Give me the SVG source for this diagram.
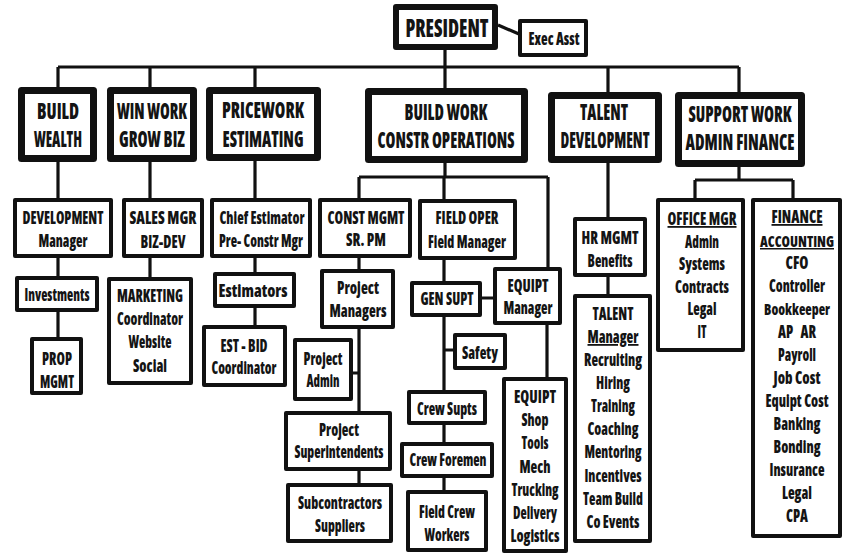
<svg xmlns="http://www.w3.org/2000/svg" width="848" height="555" viewBox="0 0 848 555">
<style>
text{font-family:"Open Sans","Liberation Sans",Arial,sans-serif;font-stretch:condensed;font-weight:800;fill:#141414;text-anchor:middle}
.t0{font-size:24px}
.t1{font-size:22px}
.t2{font-size:18px}
.t3{font-size:17px}
.t4{font-size:16.5px}
.t5{font-size:15px}
.u{text-decoration:underline}
.b1{fill:#fff;stroke:#111;stroke-width:7;stroke-linejoin:round}
.b0{fill:#fff;stroke:#111;stroke-width:6;stroke-linejoin:round}
.b2{fill:#fff;stroke:#111;stroke-width:4;stroke-linejoin:round}
.c{fill:none;stroke:#111;stroke-width:3.2;stroke-linejoin:miter}
</style>
<rect width="848" height="555" fill="#fff"/>
<g id="connectors">
<path class="c" d="M445 50V67M58 67H739M58 67V90M150 67V90M255 67V90M445 67V91M608 67V95M739 67V95"/>
<path class="c" d="M498 25L519 34"/>
<path class="c" d="M58 158V199M58 256V277M58 311V338"/>
<path class="c" d="M150 158V199M150 256V278"/>
<path class="c" d="M255 157V199M255 256V273M255 307V326"/>
<path class="c" d="M445 159V177M359 177H548M359 177V199M444 177V200M548 177V268"/>
<path class="c" d="M359 256V270M359 327V412M353 373H359M359 469V484"/>
<path class="c" d="M444 258V282M444 315V391M444 350H454M482 298H494M444 423V443M444 476V491M547 323V378"/>
<path class="c" d="M608 159V218M608 275V295"/>
<path class="c" d="M739 163V180M695 180H793M695 180V199M793 180V199"/>
</g>
<g id="president"><rect class="b0" x="396" y="7" width="99" height="40"/><text class="t0" x="447" y="37" textLength="83" lengthAdjust="spacingAndGlyphs">PRESIDENT</text></g>
<g id="exec-asst"><rect class="b2" x="520" y="21" width="66" height="34"/><text class="t3" x="554" y="45" textLength="51" lengthAdjust="spacingAndGlyphs">Exec Asst</text></g>

<g id="build-wealth"><rect class="b1" x="21.5" y="90.5" width="72" height="68"/><text class="t1" x="58" y="119" textLength="42" lengthAdjust="spacingAndGlyphs">BUILD</text><text class="t1" x="58" y="147" textLength="48" lengthAdjust="spacingAndGlyphs">WEALTH</text></g>
<g id="win-work"><rect class="b1" x="110.5" y="90.5" width="83" height="68"/><text class="t1" x="152" y="119" textLength="70" lengthAdjust="spacingAndGlyphs">WIN WORK</text><text class="t1" x="152" y="147" textLength="66" lengthAdjust="spacingAndGlyphs">GROW BIZ</text></g>
<g id="pricework"><rect class="b1" x="209.5" y="90.5" width="108" height="67"/><text class="t1" x="263" y="118" textLength="82" lengthAdjust="spacingAndGlyphs">PRICEWORK</text><text class="t1" x="263" y="147" textLength="81" lengthAdjust="spacingAndGlyphs">ESTIMATING</text></g>
<g id="build-work"><rect class="b1" x="368.5" y="91.5" width="156" height="68"/><text class="t1" x="446" y="120" textLength="83" lengthAdjust="spacingAndGlyphs">BUILD WORK</text><text class="t1" x="446" y="148" textLength="137" lengthAdjust="spacingAndGlyphs">CONSTR OPERATIONS</text></g>
<g id="talent-dev"><rect class="b1" x="551.5" y="95.5" width="107" height="64"/><text class="t1" x="604" y="120" textLength="48" lengthAdjust="spacingAndGlyphs">TALENT</text><text class="t1" x="605" y="148" textLength="89" lengthAdjust="spacingAndGlyphs">DEVELOPMENT</text></g>
<g id="support-work"><rect class="b1" x="678.5" y="95.5" width="123" height="68"/><text class="t1" x="740" y="122" textLength="103" lengthAdjust="spacingAndGlyphs">SUPPORT WORK</text><text class="t1" x="740" y="150" textLength="109" lengthAdjust="spacingAndGlyphs">ADMIN  FINANCE</text></g>

<g id="development"><rect class="b2" x="15" y="200" width="96" height="56"/><text class="t2" x="63" y="224" textLength="81" lengthAdjust="spacingAndGlyphs">DEVELOPMENT</text><text class="t2" x="63" y="247" textLength="49" lengthAdjust="spacingAndGlyphs">Manager</text></g>
<g id="investments"><rect class="b2" x="17" y="278" width="80" height="32"/><text class="t2" x="57" y="301" textLength="65" lengthAdjust="spacingAndGlyphs">Investments</text></g>
<g id="prop-mgmt"><rect class="b2" x="32" y="339" width="49" height="54"/><text class="t2" x="57" y="365" textLength="30" lengthAdjust="spacingAndGlyphs">PROP</text><text class="t2" x="57" y="388" textLength="34" lengthAdjust="spacingAndGlyphs">MGMT</text></g>

<g id="sales-mgr"><rect class="b2" x="124" y="200" width="78" height="56"/><text class="t2" x="163" y="224" textLength="67" lengthAdjust="spacingAndGlyphs">SALES MGR</text><text class="t2" x="163" y="248" textLength="45" lengthAdjust="spacingAndGlyphs">BIZ-DEV</text></g>
<g id="marketing"><rect class="b2" x="109" y="279" width="82" height="104"/><text class="t2" x="150" y="302" textLength="66" lengthAdjust="spacingAndGlyphs">MARKETING</text><text class="t2" x="150" y="325" textLength="66" lengthAdjust="spacingAndGlyphs">Coordinator</text><text class="t2" x="150" y="348" textLength="43" lengthAdjust="spacingAndGlyphs">Website</text><text class="t2" x="150" y="372" textLength="34" lengthAdjust="spacingAndGlyphs">Social</text></g>

<g id="chief-estimator"><rect class="b2" x="212" y="200" width="98" height="56"/><text class="t2" x="262" y="224" textLength="85" lengthAdjust="spacingAndGlyphs">Chief Estimator</text><text class="t2" x="261" y="247" textLength="84" lengthAdjust="spacingAndGlyphs">Pre- Constr Mgr</text></g>
<g id="estimators"><rect class="b2" x="215" y="274" width="79" height="32"/><text class="t2" x="253" y="297" textLength="69" lengthAdjust="spacingAndGlyphs">Estimators</text></g>
<g id="est-bid"><rect class="b2" x="204" y="327" width="81" height="58"/><text class="t2" x="244" y="352" textLength="47" lengthAdjust="spacingAndGlyphs">EST - BID</text><text class="t2" x="244" y="374" textLength="65" lengthAdjust="spacingAndGlyphs">Coordinator</text></g>

<g id="const-mgmt"><rect class="b2" x="320" y="200" width="90" height="56"/><text class="t2" x="366" y="224" textLength="77" lengthAdjust="spacingAndGlyphs">CONST MGMT</text><text class="t2" x="366" y="246" textLength="40" lengthAdjust="spacingAndGlyphs">SR. PM</text></g>
<g id="field-oper"><rect class="b2" x="420" y="201" width="95" height="57"/><text class="t2" x="467" y="224" textLength="63" lengthAdjust="spacingAndGlyphs">FIELD OPER</text><text class="t2" x="467" y="248" textLength="78" lengthAdjust="spacingAndGlyphs">Field Manager</text></g>
<g id="project-managers"><rect class="b2" x="322" y="271" width="71" height="56"/><text class="t2" x="358" y="294" textLength="42" lengthAdjust="spacingAndGlyphs">Project</text><text class="t2" x="358" y="317" textLength="57" lengthAdjust="spacingAndGlyphs">Managers</text></g>
<g id="gen-supt"><rect class="b2" x="412" y="283" width="68" height="32"/><text class="t2" x="447" y="305" textLength="53" lengthAdjust="spacingAndGlyphs">GEN SUPT</text></g>
<g id="equipt-manager"><rect class="b2" x="495" y="269" width="65" height="54"/><text class="t2" x="528" y="292" textLength="41" lengthAdjust="spacingAndGlyphs">EQUIPT</text><text class="t2" x="528" y="314" textLength="49" lengthAdjust="spacingAndGlyphs">Manager</text></g>
<g id="safety"><rect class="b2" x="455" y="335" width="50" height="33"/><text class="t2" x="480" y="359" textLength="36" lengthAdjust="spacingAndGlyphs">Safety</text></g>
<g id="project-admin"><rect class="b2" x="295" y="340" width="56" height="59"/><text class="t2" x="323" y="365" textLength="39" lengthAdjust="spacingAndGlyphs">Project</text><text class="t2" x="323" y="387" textLength="33" lengthAdjust="spacingAndGlyphs">Admin</text></g>
<g id="project-supts"><rect class="b2" x="286" y="413" width="104" height="56"/><text class="t2" x="339" y="436" textLength="40" lengthAdjust="spacingAndGlyphs">Project</text><text class="t2" x="339" y="458" textLength="89" lengthAdjust="spacingAndGlyphs">Superintendents</text></g>
<g id="subcontractors"><rect class="b2" x="288" y="485" width="103" height="56"/><text class="t2" x="340" y="509" textLength="84" lengthAdjust="spacingAndGlyphs">Subcontractors</text><text class="t2" x="340" y="532" textLength="50" lengthAdjust="spacingAndGlyphs">Suppliers</text></g>
<g id="crew-supts"><rect class="b2" x="409" y="392" width="76" height="31"/><text class="t2" x="447" y="415" textLength="60" lengthAdjust="spacingAndGlyphs">Crew Supts</text></g>
<g id="crew-foremen"><rect class="b2" x="402" y="444" width="90" height="32"/><text class="t2" x="448" y="466" textLength="77" lengthAdjust="spacingAndGlyphs">Crew Foremen</text></g>
<g id="field-crew"><rect class="b2" x="408" y="492" width="78" height="58"/><text class="t2" x="447" y="518" textLength="56" lengthAdjust="spacingAndGlyphs">Field Crew</text><text class="t2" x="447" y="541" textLength="45" lengthAdjust="spacingAndGlyphs">Workers</text></g>
<g id="equipt-list"><rect class="b2" x="504" y="379" width="62" height="172"/>
<text class="t2" x="535" y="403" textLength="42" lengthAdjust="spacingAndGlyphs">EQUIPT</text>
<text class="t2" x="535" y="426" textLength="27" lengthAdjust="spacingAndGlyphs">Shop</text>
<text class="t2" x="535" y="449" textLength="27" lengthAdjust="spacingAndGlyphs">Tools</text>
<text class="t2" x="535" y="473" textLength="31" lengthAdjust="spacingAndGlyphs">Mech</text>
<text class="t2" x="535" y="496" textLength="47" lengthAdjust="spacingAndGlyphs">Trucking</text>
<text class="t2" x="535" y="519" textLength="44" lengthAdjust="spacingAndGlyphs">Delivery</text>
<text class="t2" x="535" y="542" textLength="49" lengthAdjust="spacingAndGlyphs">Logistics</text></g>

<g id="hr-mgmt"><rect class="b2" x="575" y="219" width="70" height="56"/><text class="t2" x="610" y="244" textLength="57" lengthAdjust="spacingAndGlyphs">HR MGMT</text><text class="t2" x="610" y="267" textLength="45" lengthAdjust="spacingAndGlyphs">Benefits</text></g>
<g id="talent-manager"><rect class="b2" x="575" y="296" width="75" height="245"/>
<text class="t2" x="613" y="320" textLength="41" lengthAdjust="spacingAndGlyphs">TALENT</text>
<text class="t2 u" x="613" y="343" textLength="51" lengthAdjust="spacingAndGlyphs">Manager</text>
<text class="t2" x="613" y="366" textLength="58" lengthAdjust="spacingAndGlyphs">Recruiting</text>
<text class="t2" x="613" y="389" textLength="34" lengthAdjust="spacingAndGlyphs">Hiring</text>
<text class="t2" x="613" y="412" textLength="44" lengthAdjust="spacingAndGlyphs">Training</text>
<text class="t2" x="613" y="435" textLength="51" lengthAdjust="spacingAndGlyphs">Coaching</text>
<text class="t2" x="613" y="458" textLength="57" lengthAdjust="spacingAndGlyphs">Mentoring</text>
<text class="t2" x="613" y="482" textLength="57" lengthAdjust="spacingAndGlyphs">Incentives</text>
<text class="t2" x="613" y="505" textLength="60" lengthAdjust="spacingAndGlyphs">Team Build</text>
<text class="t2" x="613" y="528" textLength="53" lengthAdjust="spacingAndGlyphs">Co Events</text></g>

<g id="office-mgr"><rect class="b2" x="658" y="200" width="85" height="150"/>
<text class="t2 u" x="702" y="225" textLength="69" lengthAdjust="spacingAndGlyphs">OFFICE MGR</text>
<text class="t2" x="702" y="248" textLength="34" lengthAdjust="spacingAndGlyphs">Admin</text>
<text class="t2" x="702" y="270" textLength="46" lengthAdjust="spacingAndGlyphs">Systems</text>
<text class="t2" x="702" y="293" textLength="54" lengthAdjust="spacingAndGlyphs">Contracts</text>
<text class="t2" x="702" y="315" textLength="29" lengthAdjust="spacingAndGlyphs">Legal</text>
<text class="t2" x="702" y="338" textLength="9" lengthAdjust="spacingAndGlyphs">IT</text></g>
<g id="finance-accounting"><rect class="b2" x="753" y="200" width="87" height="336"/>
<text class="t2 u" x="797" y="223" textLength="51" lengthAdjust="spacingAndGlyphs">FINANCE</text>
<text class="t5 u" x="797" y="247" textLength="74" lengthAdjust="spacingAndGlyphs">ACCOUNTING</text>
<text class="t2" x="797" y="269" textLength="23" lengthAdjust="spacingAndGlyphs">CFO</text>
<text class="t2" x="797" y="292" textLength="56" lengthAdjust="spacingAndGlyphs">Controller</text>
<text class="t4" x="797" y="315" textLength="66" lengthAdjust="spacingAndGlyphs">Bookkeeper</text>
<text class="t2" x="797" y="338" textLength="38" lengthAdjust="spacingAndGlyphs" xml:space="preserve">AP   AR</text>
<text class="t2" x="797" y="361" textLength="38" lengthAdjust="spacingAndGlyphs">Payroll</text>
<text class="t2" x="797" y="384" textLength="47" lengthAdjust="spacingAndGlyphs">Job Cost</text>
<text class="t2" x="797" y="407" textLength="63" lengthAdjust="spacingAndGlyphs">Equipt Cost</text>
<text class="t2" x="797" y="430" textLength="47" lengthAdjust="spacingAndGlyphs">Banking</text>
<text class="t2" x="797" y="453" textLength="47" lengthAdjust="spacingAndGlyphs">Bonding</text>
<text class="t2" x="797" y="476" textLength="55" lengthAdjust="spacingAndGlyphs">Insurance</text>
<text class="t2" x="797" y="499" textLength="30" lengthAdjust="spacingAndGlyphs">Legal</text>
<text class="t2" x="797" y="522" textLength="22" lengthAdjust="spacingAndGlyphs">CPA</text></g>
</svg>
